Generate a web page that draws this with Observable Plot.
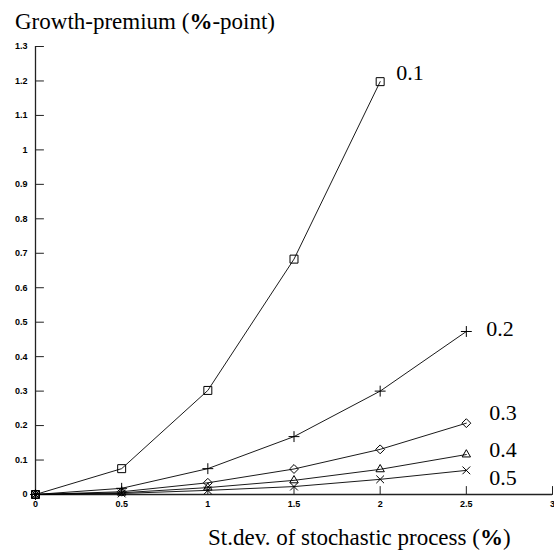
<!DOCTYPE html>
<html><head><meta charset="utf-8">
<script src="https://cdn.jsdelivr.net/npm/d3@7"></script>
<script src="https://cdn.jsdelivr.net/npm/@observablehq/plot@0.6"></script>
<style>
body{margin:0;background:#fff;}
#wrap{position:relative;width:554px;height:556px;overflow:hidden;}
#wrap svg{position:absolute;left:0;top:0;}
.ttl{position:absolute;font-family:"Liberation Serif","Times New Roman",serif;font-size:23px;color:#000;white-space:nowrap;line-height:23px;}
</style></head><body>
<div id="wrap"></div>
<script>
// ---- data ----
const sigma = [0, 0.5, 1, 1.5, 2, 2.5];
const seriesNames = ["0.1", "0.2", "0.3", "0.4", "0.5"];
const premium01 = [0, 0.075, 0.302, 0.683, 1.198];
const premium02 = [0, 0.018, 0.075, 0.168, 0.300, 0.473];
const premium03 = [0, 0.008, 0.034, 0.074, 0.131, 0.207];
const premium04 = [0, 0.005, 0.020, 0.041, 0.073, 0.116];
const premium05 = [0, 0.003, 0.012, 0.023, 0.044, 0.070];
const xTicks = [0, 0.5, 1, 1.5, 2, 2.5, 3];
const yTicks = [0, 0.1, 0.2, 0.3, 0.4, 0.5, 0.6, 0.7, 0.8, 0.9, 1, 1.1, 1.2, 1.3];
const yTitle = "Growth-premium (%-point)";
const xTitle = "St.dev. of stochastic process (%)";

// ---- styles ----
const symbols = ["square", "plus", "diamond2", "triangle2", "times"];
const symbolR = [4.5, 3.6, 4, 4, 3.6];
const labelOffsets = [[16, -9], [20, -3], [23, -10], [23, -5], [23, 8]];
const allSeries = [premium01, premium02, premium03, premium04, premium05];
const tickShape = {draw(c, l) { c.moveTo(0, 0); c.lineTo(0, -l); }};

const marks = [];
allSeries.forEach((vals, i) => {
  const rows = vals.map((v, j) => ({x: sigma[j], y: v, s: seriesNames[i]}));
  marks.push(Plot.line(rows, {x: "x", y: "y", stroke: "#000", strokeWidth: 0.9}));
  marks.push(Plot.dot(rows, {x: "x", y: "y", symbol: () => symbols[i], r: symbolR[i], stroke: "#000", strokeWidth: 1, fill: "none"}));
  marks.push(Plot.text([rows[rows.length - 1]], {x: "x", y: "y", text: "s", textAnchor: "start",
    dx: labelOffsets[i][0], dy: labelOffsets[i][1], fontSize: 22,
    fontFamily: "Liberation Serif, Times New Roman, serif", fill: "#000"}));
});

const chart = Plot.plot({
  width: 554, height: 556,
  marginLeft: 35, marginRight: 2, marginTop: 46, marginBottom: 62,
  style: {background: "white", color: "#000"},
  x: {domain: [0, 3]},
  y: {domain: [0, 1.3]},
  marks: [
    Plot.axisY(yTicks, {tickSize: 0, tickPadding: 8, tickFormat: d => String(d), fontSize: 9, fontWeight: "bold",
      fontFamily: "Liberation Sans, Arial, sans-serif", label: null}),
    Plot.axisX(xTicks, {tickSize: 0, tickPadding: 6, tickFormat: d => String(d), fontSize: 9, fontWeight: "bold",
      fontFamily: "Liberation Sans, Arial, sans-serif", label: null}),
    Plot.vector(yTicks, {x: 0, y: d => d, rotate: 90, length: 8, anchor: "start", shape: tickShape, stroke: "#222", strokeWidth: 1}),
    Plot.vector(xTicks, {x: d => d, y: 0, rotate: 0, length: 8, anchor: "start", shape: tickShape, stroke: "#222", strokeWidth: 1}),
    Plot.ruleX([0], {stroke: "#222", strokeWidth: 1.3}),
    Plot.ruleY([0], {stroke: "#222", strokeWidth: 1.3}),
    ...marks
  ]
});

const wrap = document.getElementById("wrap");
wrap.appendChild(chart);
function addTitle(txt, left, top) {
  const d = document.createElement("div");
  d.className = "ttl";
  d.style.left = left + "px";
  d.style.top = top + "px";
  const k = txt.indexOf("%");
  d.appendChild(document.createTextNode(txt.slice(0, k)));
  const b = document.createElement("b");
  b.textContent = "%";
  d.appendChild(b);
  d.appendChild(document.createTextNode(txt.slice(k + 1)));
  wrap.appendChild(d);
}
addTitle(yTitle, 15, 10);
addTitle(xTitle, 208, 526);
</script>
</body></html>
